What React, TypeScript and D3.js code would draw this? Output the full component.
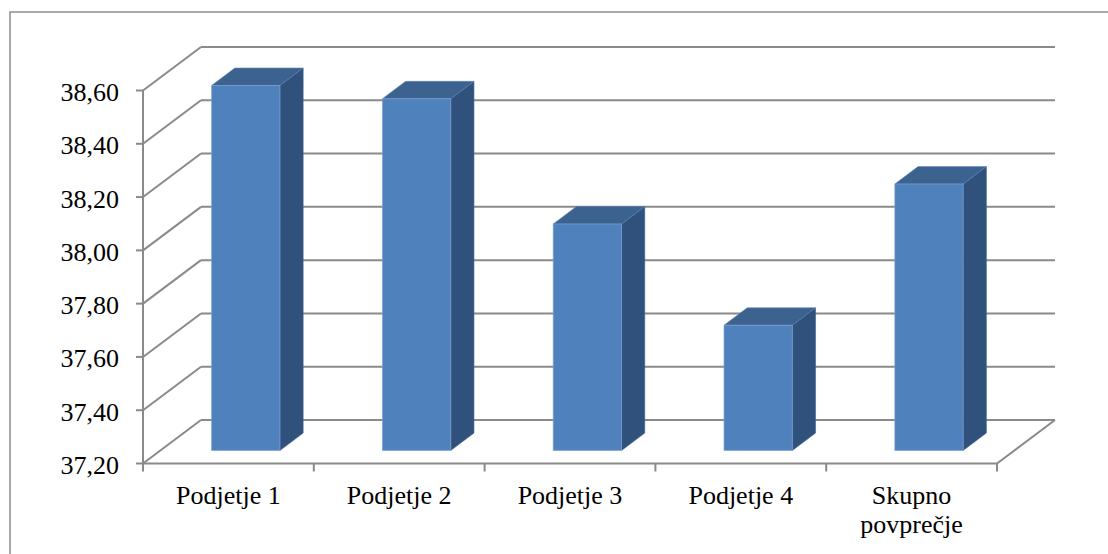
import React from "react";
import * as d3 from "d3";

// Categories and their mean values
const categories: string[][] = [
  ["Podjetje 1"],
  ["Podjetje 2"],
  ["Podjetje 3"],
  ["Podjetje 4"],
  ["Skupno", "povprečje"],
];
const values: number[] = [38.57, 38.52, 38.05, 37.67, 38.2];
const yTicks: number[] = [37.2, 37.4, 37.6, 37.8, 38.0, 38.2, 38.4, 38.6];

const W = 1108;
const H = 554;

// 3D projection: depth 0 is the front plane, depth 1 the back wall
const DX = 58;
const DY = 43.5;
const FRONT_LEFT = 143;
const FRONT_RIGHT = 997;

const FONT =
  '"Times New Roman", Times, "Liberation Serif", Tinos, "Nimbus Roman", "Noto Serif", "DejaVu Serif", FreeSerif, serif';
const GRID = "#8a8a8a";

export default function App() {
  const keys = categories.map((c) => c.join(" "));
  const x = d3
    .scaleBand<string>()
    .domain(keys)
    .range([FRONT_LEFT, FRONT_RIGHT])
    .paddingInner(0.6)
    .paddingOuter(0.3);
  const step = x.step();
  const yBack = d3.scaleLinear().domain([37.2, 38.6]).range([420, 47]);

  // project (front x, value, depth) to screen
  const P = (fx: number, v: number, depth: number): [number, number] => [
    fx + depth * DX,
    yBack(v) + (1 - depth) * DY,
  ];
  const pts = (arr: [number, number][]) => arr.map((p) => p.join(",")).join(" ");
  const fmt = (v: number) => v.toFixed(2).replace(".", ",");

  const yMin = yTicks[0];
  const yMax = yTicks[yTicks.length - 1];
  const d0 = 0.3;
  const d1 = 0.7;

  return (
    <svg
      width={W}
      height={H}
      style={{ position: "absolute", left: 0, top: 0, display: "block", background: "#fff" }}
    >
      {/* outer chart border */}
      <rect x={10} y={12} width={W + 20} height={H + 20} fill="none" stroke="#8c8c8c" strokeWidth={1.5} />

      {/* back wall gridlines */}
      {yTicks.map((t) => {
        const a = P(FRONT_LEFT, t, 1);
        const b = P(FRONT_RIGHT, t, 1);
        return <line key={"bg" + t} x1={a[0]} y1={a[1]} x2={b[0]} y2={b[1]} stroke={GRID} strokeWidth={2} />;
      })}
      {/* side wall gridlines */}
      {yTicks.map((t) => {
        const a = P(FRONT_LEFT, t, 0);
        const b = P(FRONT_LEFT, t, 1);
        return <line key={"sg" + t} x1={a[0]} y1={a[1]} x2={b[0]} y2={b[1]} stroke={GRID} strokeWidth={2} />;
      })}
      {/* floor outline */}
      <polyline
        points={pts([P(FRONT_LEFT, yMin, 0), P(FRONT_RIGHT, yMin, 0), P(FRONT_RIGHT, yMin, 1)])}
        fill="none"
        stroke={GRID}
        strokeWidth={2}
      />
      {/* vertical axis */}
      <line
        x1={FRONT_LEFT}
        y1={P(FRONT_LEFT, yMax, 0)[1]}
        x2={FRONT_LEFT}
        y2={P(FRONT_LEFT, yMin, 0)[1]}
        stroke={GRID}
        strokeWidth={2}
      />
      {yTicks.map((t) => {
        const [px, py] = P(FRONT_LEFT, t, 0);
        return (
          <g key={"yt" + t}>
            <line x1={px - 7} y1={py} x2={px} y2={py} stroke={GRID} strokeWidth={2} />
            <text x={119} y={py + 10.5} textAnchor="end" style={{ fontFamily: FONT, fontSize: 26 }} fill="#000">
              {fmt(t)}
            </text>
          </g>
        );
      })}
      {/* category ticks */}
      {d3.range(keys.length + 1).map((i) => {
        const fx = FRONT_LEFT + i * step;
        const py = P(fx, yMin, 0)[1];
        return <line key={"xt" + i} x1={fx} y1={py} x2={fx} y2={py + 8} stroke={GRID} strokeWidth={2} />;
      })}

      {/* columns */}
      {values.map((v, i) => {
        const l = x(keys[i]) as number;
        const r = l + x.bandwidth();
        const fBL = P(l, yMin, d0);
        const fBR = P(r, yMin, d0);
        const fTL = P(l, v, d0);
        const fTR = P(r, v, d0);
        const bTL = P(l, v, d1);
        const bTR = P(r, v, d1);
        const bBR = P(r, yMin, d1);
        return (
          <g key={"bar" + i}>
            <polygon points={pts([fBR, fTR, bTR, bBR])} fill="#30517c" stroke="#3e6592" strokeWidth={0.6} />
            <polygon points={pts([fTL, fTR, bTR, bTL])} fill="#3c6390" stroke="#5a82b4" strokeWidth={0.6} />
            <polygon points={pts([fBL, fBR, fTR, fTL])} fill="#4f81bd" stroke="#7aa0d0" strokeWidth={0.7} />
          </g>
        );
      })}

      {/* category labels */}
      {categories.map((lines, i) => {
        const cx = FRONT_LEFT + (i + 0.5) * step;
        return (
          <text key={"cl" + i} textAnchor="middle" style={{ fontFamily: FONT, fontSize: 26 }} fill="#000">
            {lines.map((s, j) => (
              <tspan key={j} x={cx} y={504 + j * 29}>
                {s}
              </tspan>
            ))}
          </text>
        );
      })}
    </svg>
  );
}
